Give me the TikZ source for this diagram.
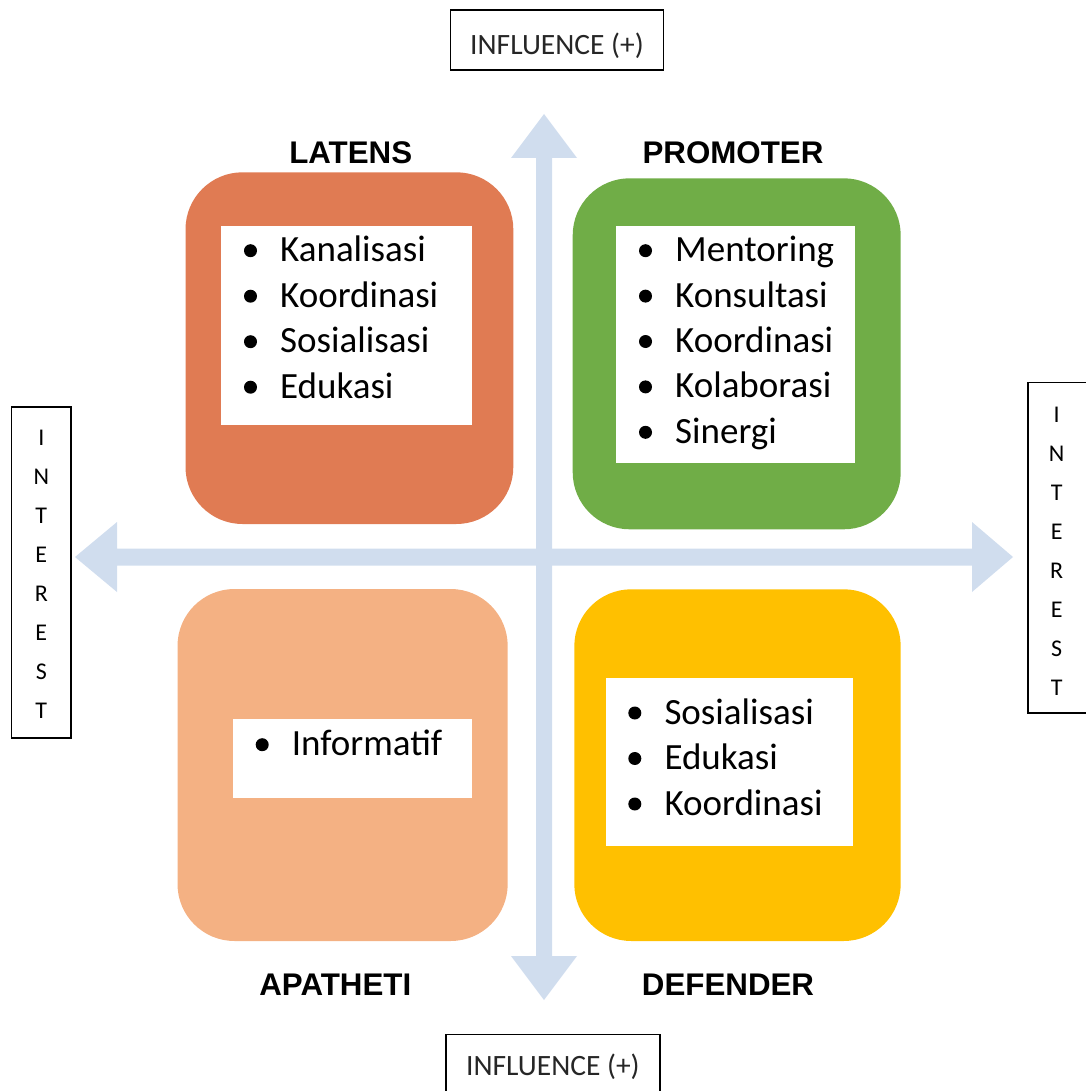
\documentclass[tikz,border=0pt]{standalone}
\usepackage{fontspec}
\setmainfont{Carlito}
\newfontfamily\headfont{Liberation Sans}
\definecolor{latens}{RGB}{224,123,83}
\definecolor{promoter}{RGB}{112,173,71}
\definecolor{apatheti}{RGB}{244,177,131}
\definecolor{defender}{RGB}{255,192,0}
\definecolor{axisblue}{RGB}{208,221,238}
\begin{document}
\begin{tikzpicture}[x=1pt,y=-1pt]
    \tikzstyle{quad}=[rounded corners=57pt]
    \tikzstyle{head}=[font=\headfont\bfseries\fontsize{31.3}{36}\selectfont, anchor=base, inner sep=0pt]
    \tikzstyle{item}=[font=\fontsize{37}{44}\selectfont, anchor=base west, inner sep=0pt]
    \tikzstyle{axisbox}=[draw=black, line width=1.5pt, inner sep=0pt, text=black!85, font=\fontsize{29.5}{34}\selectfont]
    \tikzstyle{letter}=[font=\fontsize{24}{28}\selectfont, anchor=base, inner sep=0pt]

    \useasboundingbox (0,0) rectangle (1085,1091);

    % axis arrows
    \fill[axisblue] (544,114) -- (577,158) -- (552,158) -- (552,956) -- (577,956) -- (544,1000)
        -- (511,956) -- (536,956) -- (536,158) -- (511,158) -- cycle;
    \fill[axisblue] (75,557) -- (117,522) -- (117,548.5) -- (972,548.5) -- (972,522) -- (1013,557)
        -- (972,592) -- (972,565.5) -- (117,565.5) -- (117,592) -- cycle;

    % quadrant boxes with white panels
    \fill[quad, latens] (185.5,172.3) rectangle (513.3,524);
    \fill[quad, promoter] (572.7,178.3) rectangle (900.7,529.3);
    \fill[quad, apatheti] (177.5,589) rectangle (507.7,941);
    \fill[quad, defender] (574.3,589.3) rectangle (900.7,941);
    \fill[white] (221,226) rectangle (472,425.3);
    \fill[white] (616,226) rectangle (855,463.3);
    \fill[white] (233,719) rectangle (472,798);
    \fill[white] (605.7,678) rectangle (852.7,845.7);

    % quadrant titles
    \node[head] (latens-title) at (350.7,163.3) {LATENS};
    \node[head] (promoter-title) at (733,163.3) {PROMOTER};
    \node[head] (apatheti-title) at (335.3,995) {APATHETI};
    \node[head] (defender-title) at (728,995) {DEFENDER};

    % item lists
    \foreach \t [count=\i] in {Kanalisasi,Koordinasi,Sosialisasi,Edukasi} {
    \node[item] (lat-\i) at (280,{261.7+45.5*(\i-1)}) {\t};
    \fill (lat-\i.base west) ++(-29.5,-11) circle (6.5pt);
    }
    \foreach \t [count=\i] in {Mentoring,Konsultasi,Koordinasi,Kolaborasi,Sinergi} {
    \node[item] (pro-\i) at (675,{261.7+45.4*(\i-1)}) {\t};
    \fill (pro-\i.base west) ++(-29.5,-11) circle (6.5pt);
    }
    \foreach \t [count=\i] in {Informatif} {
    \node[item] (apa-\i) at (291.7,755.7) {\t};
    \fill (apa-\i.base west) ++(-29.5,-11) circle (6.5pt);
    }
    \foreach \t [count=\i] in {Sosialisasi,Edukasi,Koordinasi} {
    \node[item] (def-\i) at (664.3,{724+45.5*(\i-1)}) {\t};
    \fill (def-\i.base west) ++(-29.5,-11) circle (6.5pt);
    }

    % axis labels
    \node[axisbox, minimum width=212.6, minimum height=60, text height=30, text depth=0] (infl-top) at (557,40) {INFLUENCE (+)};
    \node[axisbox, minimum width=214.3, minimum height=65.4, text height=24, text depth=8] (infl-bottom) at (552.9,1067) {INFLUENCE (+)};
    \node[axisbox, minimum width=59.5, minimum height=331] (int-left) at (41.3,572.5) {};
    \node[axisbox, minimum width=67, minimum height=330.7] (int-right) at (1061.5,547.7) {};
    \foreach \c [count=\i] in {I,N,T,E,R,E,S,T} {
    \node[letter] (il-\i) at (41.3,{445+39*(\i-1)}) {\c};
    \node[letter] (ir-\i) at (1056.7,{422+39*(\i-1)}) {\c};
    }
\end{tikzpicture}
\end{document}
